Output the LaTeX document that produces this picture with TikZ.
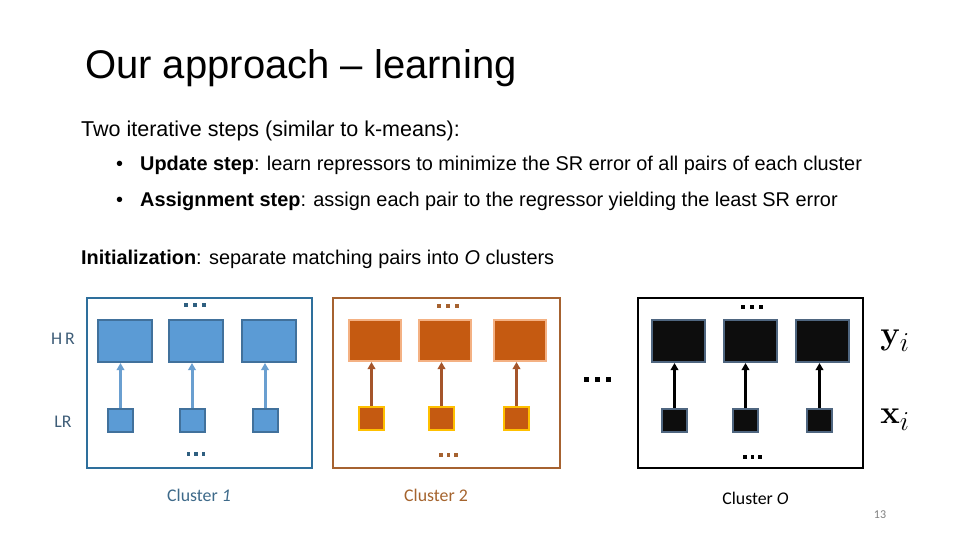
\documentclass[tikz,border=0pt]{standalone}
\usepackage[no-math]{fontspec}
\setmainfont{Liberation Sans}
\newfontfamily\carlito{Carlito}
\usepackage{graphicx}
\usetikzlibrary{arrows.meta}
\definecolor{frameblue}{HTML}{2E6F9C}
\definecolor{fillblue}{HTML}{5B9BD5}
\definecolor{edgeblue}{HTML}{41719C}
\definecolor{arrowblue}{HTML}{6A9FD0}
\definecolor{dotblue}{HTML}{2F5F80}
\definecolor{frameorange}{HTML}{A66230}
\definecolor{fillorange}{HTML}{C55A11}
\definecolor{edgepeach}{HTML}{F4B183}
\definecolor{edgeyellow}{HTML}{FFC000}
\definecolor{arroworange}{HTML}{A5552A}
\definecolor{fillblack}{HTML}{0D0D0D}
\definecolor{edgeslate}{HTML}{4F6680}
\definecolor{labelslate}{HTML}{3E5D78}
\definecolor{labelblue}{HTML}{3E6A8A}
\definecolor{labelbrown}{HTML}{A5642E}
\tikzset{
  hrbox/.style={draw, line width=2pt, minimum width=54pt, minimum height=42pt, inner sep=0pt},
  lrbox/.style={draw, line width=2pt, minimum width=25pt, minimum height=23pt, inner sep=0pt},
  bluehr/.style={hrbox, fill=fillblue, draw=edgeblue},
  bluelr/.style={lrbox, fill=fillblue, draw=edgeblue},
  orangehr/.style={hrbox, fill=fillorange, draw=edgepeach, minimum width=52pt, minimum height=41pt},
  orangelr/.style={lrbox, fill=fillorange, draw=edgeyellow},
  blackhr/.style={hrbox, fill=fillblack, draw=edgeslate, minimum width=53pt},
  blacklr/.style={lrbox, fill=fillblack, draw=edgeslate},
  framebox/.style={draw, line width=2.5pt, fill=none},
  conn/.style={line width=3pt, -{Triangle[length=7pt,width=7.5pt]}},
  bodytext/.style={anchor=base west, inner sep=0pt, font=\fontsize{19.9}{24}\selectfont},
  cluslabel/.style={anchor=base, inner sep=0pt, font=\carlito\fontsize{17.8}{20}\selectfont},
  mathlabel/.style={anchor=center, inner sep=0pt, font=\Huge},
}
\newcommand{\threedots}[4]{% x, y, size, colour
  \foreach \k in {-1,0,1} {\fill[#4] ({#1+\k*2.2*#3-#3/2},{#2-#3/2}) rectangle ++(#3,#3);}
}
\begin{document}
\begin{tikzpicture}[x=1pt,y=-1pt]
\useasboundingbox (0,0) rectangle (960,540);
\fill[white] (0,0) rectangle (960,540);

% title and text
\node[anchor=base west, inner sep=0pt, font=\fontsize{40}{44}\selectfont] (title) at (85,79) {Our approach -- learning};
\node[bodytext, font=\fontsize{21.5}{24}\selectfont] (intro) at (81,137) {Two iterative steps (similar to k-means):};
\node[bodytext] (b1dot) at (116,171) {•};
\node[bodytext] (b1) at (140,171) {\textbf{Update step}: learn repressors to minimize the SR error of all pairs of each cluster};
\node[bodytext] (b2dot) at (116,206) {•};
\node[bodytext] (b2) at (140,206) {\textbf{Assignment step}: assign each pair to the regressor yielding the least SR error};
\node[bodytext] (init) at (81,264) {\textbf{Initialization}: separate matching pairs into \textit{O} clusters};

% frames
\draw[framebox, draw=frameblue] (87,298) rectangle (312,468);
\draw[framebox, draw=frameorange] (333,298) rectangle (560,468);
\draw[framebox, draw=black] (638,298) rectangle (863,468);

% cluster 1
\node[bluehr] (h11) at (125,341) {};
\node[bluehr] (h12) at (196,341) {};
\node[bluehr] (h13) at (268.5,341) {};
\node[bluelr] (l11) at (120.5,420.5) {};
\node[bluelr] (l12) at (192,420.5) {};
\node[bluelr] (l13) at (265,420.5) {};
\foreach \i in {1,2,3} {\draw[conn, draw=arrowblue, fill=arrowblue] (l1\i.north) -- (l1\i.north |- h1\i.south);}

% cluster 2
\node[orangehr] (h21) at (375,340.5) {};
\node[orangehr] (h22) at (445,340.5) {};
\node[orangehr] (h23) at (520,340.5) {};
\node[orangelr] (l21) at (371.5,418.5) {};
\node[orangelr] (l22) at (441.5,418.5) {};
\node[orangelr] (l23) at (516.5,418.5) {};
\foreach \i in {1,2,3} {\draw[conn, draw=arroworange, fill=arroworange] (l2\i.north) -- (l2\i.north |- h2\i.south);}

% cluster O
\node[blackhr] (h31) at (678.5,341) {};
\node[blackhr] (h32) at (750,341) {};
\node[blackhr] (h33) at (822,341) {};
\node[blacklr] (l31) at (674.5,420.5) {};
\node[blacklr] (l32) at (745.5,420.5) {};
\node[blacklr] (l33) at (819.5,420.5) {};
\foreach \i in {1,2,3} {\draw[conn, draw=black, fill=black] (l3\i.north) -- (l3\i.north |- h3\i.south);}

% dots
\threedots{195}{305}{4}{dotblue}
\threedots{196}{454}{3.5}{dotblue}
\threedots{448}{306}{4}{frameorange}
\threedots{448.5}{455}{3.5}{frameorange}
\threedots{752}{307}{4}{black}
\threedots{752.5}{457}{3.5}{black}
\threedots{597}{379}{5}{black}

% side labels
\node[anchor=center, inner sep=0pt, text=labelslate, font=\carlito\fontsize{17.8}{20}\selectfont] (hr) at (63,339) {H\,R};
\node[anchor=center, inner sep=0pt, text=labelslate, font=\carlito\fontsize{17.8}{20}\selectfont] (lr) at (63,422) {LR};
\node[mathlabel] (yi) at (895,341) {\scalebox{1.32}{$\mathbf{y}_i$}};
\node[mathlabel] (xi) at (895,420) {\scalebox{1.32}{$\mathbf{x}_i$}};

% cluster labels
\node[cluslabel, text=labelblue] (c1) at (199,501) {Cluster \textit{1}};
\node[cluslabel, text=labelbrown] (c2) at (436,501) {Cluster 2};
\node[cluslabel, text=black] (c3) at (755.5,504) {Cluster \textit{O}};
\node[anchor=base, inner sep=0pt, text=gray, font=\carlito\fontsize{12}{14}\selectfont] (num) at (880,518) {13};
\end{tikzpicture}
\end{document}
